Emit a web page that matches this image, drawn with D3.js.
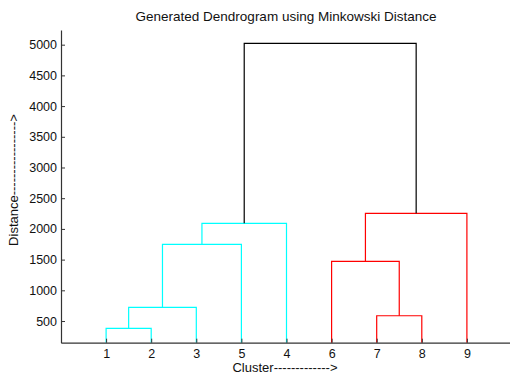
<!DOCTYPE html>
<html>
<head>
<meta charset="utf-8">
<script src="https://cdn.jsdelivr.net/npm/d3@7"></script>
<style>
	body { margin: 0; background: #fff; }
	svg { display: block; font-family: "Liberation Sans", Arial, sans-serif; }
</style>
</head>
<body>
<div id="chart"></div>
<script>
// linkage table (matlab style): leaves are 1..9, merged nodes get ids 10, 11, ...
var linkLeft   = [1, 7, 10, 6, 12, 14, 13, 15];
var linkRight  = [2, 8, 3, 11, 5, 4, 9, 16];
var linkHeight = [381, 586, 723, 1472, 1749, 2091, 2254, 5020];
var leafNames  = ["1", "2", "3", "4", "5", "6", "7", "8", "9"];
var yTicks     = [500, 1000, 1500, 2000, 2500, 3000, 3500, 4000, 4500, 5000];

!function() {
	var width = 510,
		height = 374,
		nLeaf = leafNames.length,
		cutoff = 0.7 * d3.max(linkHeight),
		palette = ["#00ffff", "#ff0000"];

	var svg = d3.select("#chart").append("svg")
		.attr("width", width)
		.attr("height", height);

	//walk the tree to get the leaf order
	var order = [];
	function walk(id){
		if (id <= nLeaf) { order.push(id); return; }
		var k = id - nLeaf - 1;
		walk(linkLeft[k]);
		walk(linkRight[k]);
	}
	walk(nLeaf * 2 - 1);

	var x = d3.scaleLinear().domain([0, nLeaf + 1]).range([61, 512]);
	var y = d3.scaleLinear().domain([147, 5239]).range([342.7, 30]).clamp(true);

	//position + height of every node
	var pos = {}, hgt = {}, grp = {};
	order.forEach(function(id, i){ pos[id] = i + 1; hgt[id] = 0; });

	linkHeight.forEach(function(h, k){
		var id = nLeaf + 1 + k;
		pos[id] = (pos[linkLeft[k]] + pos[linkRight[k]]) / 2;
		hgt[id] = h;
	});

	//colour groups: subtrees below the cutoff
	var groupCount = 0;
	function paint(id, g){
		grp[id] = g;
		if (id > nLeaf) {
			paint(linkLeft[id - nLeaf - 1], g);
			paint(linkRight[id - nLeaf - 1], g);
		}
	}
	function findGroups(id){
		if (id <= nLeaf) return;
		var k = id - nLeaf - 1;
		if (linkHeight[k] < cutoff) { paint(id, groupCount++); return; }
		findGroups(linkLeft[k]);
		findGroups(linkRight[k]);
	}
	findGroups(nLeaf * 2 - 1);

	//draw the links
	svg.append("g").selectAll("path")
		.data(linkHeight)
		.enter()
		.append("path")
		.attr("fill", "none")
		.attr("stroke-width", 1.2)
		.attr("stroke", function(h, k){
			var g = grp[nLeaf + 1 + k];
			return g === undefined ? "#000" : palette[g % palette.length];
		})
		.attr("d", function(h, k){
			var a = linkLeft[k], b = linkRight[k];
			return "M" + x(pos[a]) + "," + y(hgt[a]) +
				"V" + y(h) + "H" + x(pos[b]) + "V" + y(hgt[b]);
		});

	//y axis
	var yAxis = d3.axisLeft(y).tickValues(yTicks).tickFormat(d3.format("d"))
		.tickSizeInner(-4).tickSizeOuter(0).tickPadding(4);
	var gy = svg.append("g").attr("transform", "translate(61,0)").call(yAxis);

	//x axis
	var xAxis = d3.axisBottom(x).tickValues(d3.range(1, nLeaf + 1))
		.tickFormat(function(d){ return leafNames[order[d - 1] - 1]; })
		.tickSizeInner(-4).tickSizeOuter(0).tickPadding(6);
	var gx = svg.append("g").attr("transform", "translate(0,342.7)").call(xAxis);

	[gx, gy].forEach(function(g){
		g.select(".domain").attr("stroke", "#333").attr("stroke-width", 1.2);
		g.selectAll(".tick line").attr("stroke", "#333");
		g.selectAll("text").attr("font-size", 12.5).attr("fill", "#111")
			.attr("font-family", "Liberation Sans, Arial, sans-serif");
	});

	//labels
	svg.append("text")
		.attr("x", 286).attr("y", 21)
		.attr("text-anchor", "middle").attr("font-size", 13.5).attr("fill", "#111")
		.text("Generated Dendrogram using Minkowski Distance");

	svg.append("text")
		.attr("x", 285).attr("y", 372)
		.attr("text-anchor", "middle").attr("font-size", 13).attr("fill", "#111")
		.text("Cluster------------->");

	svg.append("text")
		.attr("transform", "translate(18,180) rotate(-90)")
		.attr("text-anchor", "middle").attr("font-size", 13).attr("fill", "#111")
		.text("Distance----------------->");
}();
</script>
</body>
</html>
